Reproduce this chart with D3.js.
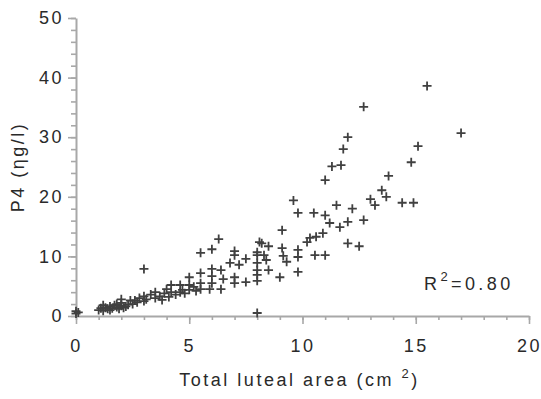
<!DOCTYPE html>
<html>
<head>
<meta charset="utf-8">
<script src="https://cdn.jsdelivr.net/npm/d3@7"></script>
<style>
  body { margin: 0; background: #fff; }
  svg { display: block; }
  text { font-family: "Liberation Sans", Arial, sans-serif; fill: #2a2a2a; }
</style>
</head>
<body>
<svg width="541" height="399"></svg>
<script>
// total luteal area (cm2)
const lutealArea = [
  0, 0, 0.1,
  1.0, 1.1, 1.2, 1.3, 1.4, 1.5, 1.6, 1.7, 1.8, 1.9, 2.0, 2.0, 2.0, 2.1, 2.3, 2.5, 2.6, 2.7, 2.8,
  3.0, 3.0, 3.0, 3.1, 3.3, 3.5, 3.5, 3.7, 3.8, 3.9, 4.0, 4.1, 4.2, 4.2, 4.4, 4.6, 4.6, 4.7, 4.8,
  5.0, 5.0, 5.0, 5.2, 5.3,
  5.5, 5.5, 5.5, 5.5, 5.9, 6.0, 6.0, 6.0, 6.0, 6.3, 6.4, 6.4, 6.5, 6.8, 7.0, 7.0, 7.0, 7.0, 7.2,
  7.5, 7.5, 8.0, 8.0, 8.0, 8.0, 8.0, 8.0, 8.0, 8.1, 8.2, 8.3, 8.4, 8.5, 8.5,
  9.0, 9.1, 9.1, 9.15, 9.3, 9.6, 9.8, 9.8, 9.8, 9.8,
  10.2, 10.33, 10.5, 10.55, 10.6, 10.9, 11.0, 11.0, 11.0, 11.2, 11.3, 11.5, 11.65, 11.7, 11.8,
  12.0, 12.0, 12.0, 12.2, 12.5, 12.7, 12.7, 13.0, 13.2, 13.5, 13.7, 13.8,
  14.4, 14.8, 14.9, 15.1, 15.5, 17.0,
  1.2, 1.5, 1.8, 2.2, 2.4
]
// P4 (ng/l) for each area above
const p4 = [
  0.4, 0.8, 0.6,
  1.0, 1.3, 0.9, 1.4, 1.2, 1.6, 1.3, 1.8, 1.5, 1.2, 1.7, 2.2, 2.8, 1.4, 1.9, 2.0, 2.6, 2.3, 3.0,
  2.5, 3.3, 7.9, 2.8, 3.6, 3.0, 4.0, 3.3, 2.7, 3.8, 4.5, 3.2, 4.0, 5.2, 3.6, 4.0, 5.2, 4.4, 3.8,
  4.4, 5.2, 6.5, 4.9, 4.2,
  4.5, 5.5, 7.2, 10.6, 4.5, 5.5, 6.7, 7.9, 11.2, 12.9, 4.5, 7.7, 6.2, 8.9, 5.5, 6.5, 10.2, 10.9, 8.6,
  5.7, 9.6, 0.5, 5.9, 6.9, 7.7, 8.9, 10.2, 10.7, 12.4, 12.2, 10.2, 9.4, 7.7, 11.7,
  6.5, 11.4, 14.4, 10.1, 9.1, 19.4, 7.4, 9.9, 11.1, 17.3,
  12.4, 13.1, 17.3, 10.2, 13.3, 13.9, 10.2, 16.9, 22.8, 15.6, 25.1, 18.6, 14.9, 25.3, 28.0,
  12.2, 15.8, 30.0, 18.0, 11.7, 16.1, 35.1, 19.6, 18.6, 21.1, 20.0, 23.5,
  19.0, 25.8, 19.0, 28.5, 38.6, 30.7,
  1.8, 1.0, 2.0, 1.6, 2.6
]
const xTicks = [0, 5, 10, 15, 20]
const yTicks = [0, 10, 20, 30, 40, 50]

const margin = {top: 18, right: 12, bottom: 83, left: 76}
const width = 541
const height = 399

const data = lutealArea.map((a, i) => ({area: a, p4: p4[i]}))

const x = d3.scaleLinear()
  .domain([0, 20])
  .range([margin.left, width - margin.right])

const y = d3.scaleLinear()
  .domain([0, 50])
  .range([height - margin.bottom, margin.top])

const svg = d3.select('svg')
const axisColor = '#a8a8a8'

function styleAxis(g) {
  g.select('.domain').attr('stroke', axisColor).attr('stroke-width', 2)
  g.selectAll('.tick line').attr('stroke', axisColor).attr('stroke-width', 1.6)
  g.selectAll('text')
    .attr('font-size', 18)
    .attr('letter-spacing', '2.5px')
    .attr('fill', '#2a2a2a')
}

// minor ticks first so the major ones sit on top
svg.append('g')
  .attr('transform', `translate(0, ${y(0)})`)
  .call(d3.axisBottom(x).tickValues(d3.range(0, 21, 1)).tickSize(4).tickFormat(''))
  .call(g => g.select('.domain').remove())
  .call(g => g.selectAll('.tick line').attr('stroke', axisColor).attr('stroke-width', 1.6))

svg.append('g')
  .attr('transform', `translate(${x(0)}, 0)`)
  .call(d3.axisLeft(y).tickValues(d3.range(0, 51, 2)).tickSize(5).tickFormat(''))
  .call(g => g.select('.domain').remove())
  .call(g => g.selectAll('.tick line').attr('stroke', axisColor).attr('stroke-width', 1.6))

svg.append('g')
  .attr('transform', `translate(0, ${y(0)})`)
  .call(d3.axisBottom(x).tickValues(xTicks).tickSize(8).tickSizeOuter(0).tickPadding(15))
  .call(styleAxis)

svg.append('g')
  .attr('transform', `translate(${x(0)}, 0)`)
  .call(d3.axisLeft(y).tickValues(yTicks).tickSize(8).tickSizeOuter(0).tickPadding(4))
  .call(styleAxis)

// scatter as "+" marks
const arm = 4.5
svg.append('g')
  .attr('stroke', '#404040')
  .attr('stroke-width', 1.8)
  .selectAll('path')
  .data(data)
  .join('path')
    .attr('d', d => {
      const cx = x(d.area), cy = y(d.p4)
      return `M${cx - arm},${cy}H${cx + arm}M${cx},${cy - arm}V${cy + arm}`
    })

// axis titles
const xTitle = svg.append('text')
  .attr('x', (x(0) + x(20)) / 2 - 3)
  .attr('y', 386)
  .attr('text-anchor', 'middle')
  .attr('font-size', 18)
  .attr('letter-spacing', '2.5px')
xTitle.append('tspan').text('Total luteal area (cm ')
xTitle.append('tspan').attr('dy', -8).attr('font-size', 13).text('2')
xTitle.append('tspan').attr('dy', 8).text(')')

svg.append('text')
  .attr('transform', `translate(24, ${(y(0) + y(50)) / 2}) rotate(-90)`)
  .attr('text-anchor', 'middle')
  .attr('font-size', 18)
  .attr('letter-spacing', '2.5px')
  .text('P4 (ηg/l)')

const r2 = svg.append('text')
  .attr('x', 424)
  .attr('y', 290)
  .attr('font-size', 18)
  .attr('letter-spacing', '3.4px')
r2.append('tspan').text('R')
r2.append('tspan').attr('dy', -9).attr('font-size', 13).text('2')
r2.append('tspan').attr('dy', 9).text('=0.80')
</script>
</body>
</html>
